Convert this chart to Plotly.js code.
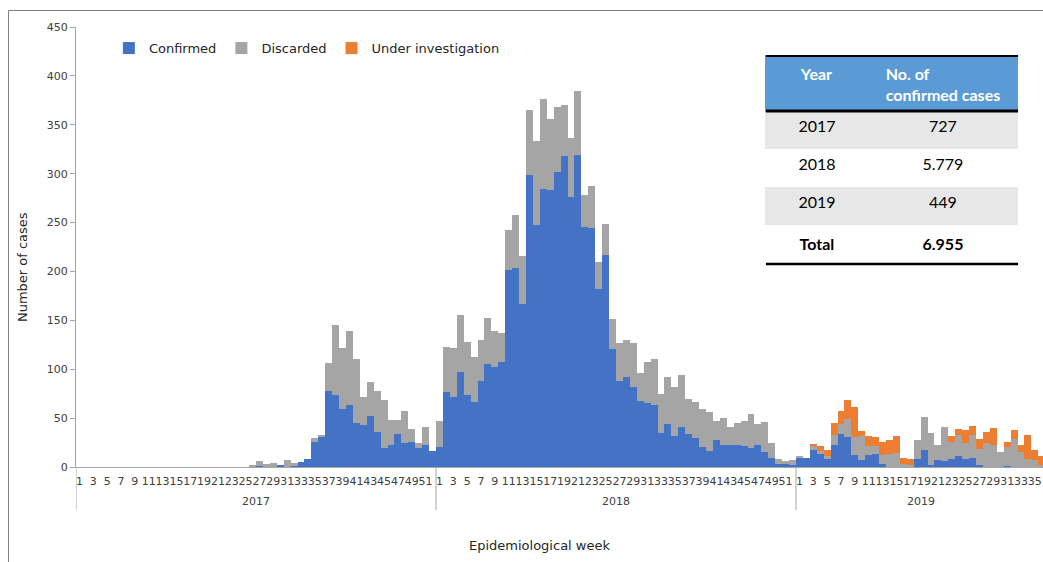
<!DOCTYPE html>
<html>
<head>
<meta charset="utf-8">
<script src="https://cdn.plot.ly/plotly-3.0.1.min.js"></script>
<style>
  html, body { margin: 0; padding: 0; background: #ffffff; }
  #chart { width: 1043px; height: 562px; }
</style>
</head>
<body>
<div id="chart"></div>
<script>
// ---------------- DATA ----------------
const years = ['2017', '2018', '2019'];

const confirmed2017 = [0,0,0,0,0,0,0,0,0,0, 0,0,0,0,0,0,0,0,0,0, 0,0,0,0,0,
  1,1,0,0,2,0,2,5,8,26,31,78,74,59,63,45,43,52,36,19,22,34,25,26,19,22,16];
const discarded2017 = [0,0,0,0,0,0,0,0,0,0, 0,0,0,0,0,0,0,0,0,0, 0,0,0,0,0,
  1,5,3,4,0,7,2,0,0,4,1,28,71,63,76,65,29,35,42,50,26,14,32,13,6,19,0];

const confirmed2018 = [20,77,72,97,74,66,88,105,102,107,
  201,204,167,299,248,284,283,302,318,276,
  319,245,244,182,217,121,88,92,82,68,
  65,63,35,44,32,41,34,30,20,16,
  28,22,22,23,21,19,22,15,9,3,3,2];
const discarded2018 = [27,46,50,58,54,46,42,47,37,30,
  41,54,49,66,85,92,73,66,52,60,
  66,33,43,28,32,30,39,38,45,28,
  42,47,40,48,50,53,36,36,39,40,
  19,28,19,22,26,35,22,31,16,5,3,5];

const confirmed2019 = [10,9,17,13,9,23,34,31,12,7,
  12,13,3,0,0,0,0,8,17,2,
  7,6,8,11,8,9,2,0,0,0,
  1,0,0,0,0,0];
const discarded2019 = [1,0,4,3,2,10,10,18,19,25,
  9,8,9,13,14,3,2,20,34,33,
  16,35,18,22,17,24,16,25,23,15,
  19,29,15,8,7,2];
const investigation2019 = [0,0,3,5,6,12,13,20,30,5,
  11,10,14,15,18,6,6,0,0,0,
  0,0,6,6,13,9,11,11,17,0,
  6,9,8,25,10,9];

// summary table
const tableYears = ['2017', '2018', '2019', '<b>Total</b>'];
const tableCases = ['727', '5.779', '449', '<b>6.955</b>'];

const seriesNames = ['Confirmed', 'Discarded', 'Under investigation'];
const seriesColors = ['#4472C4', '#A5A5A5', '#ED7D31'];

// ---------------- BUILD ----------------
const confirmedByYear = [confirmed2017, confirmed2018, confirmed2019];
const discardedByYear = [discarded2017, discarded2018, discarded2019];
const investigationByYear = [null, null, investigation2019];

const offsets = [];
let acc = 0;
confirmedByYear.forEach(arr => { offsets.push(acc); acc += arr.length; });

function buildSeries(byYear) {
  const x = [], y = [], cd = [];
  byYear.forEach((arr, yi) => {
    if (!arr) return;
    arr.forEach((v, wi) => { x.push(offsets[yi] + wi); y.push(v); cd.push([years[yi], wi + 1]); });
  });
  return { x, y, cd };
}

const tickvals = [], ticktext = [];
confirmedByYear.forEach((arr, yi) => {
  arr.forEach((v, wi) => {
    const wk = wi + 1;
    if (wk % 2 === 1) { tickvals.push(offsets[yi] + wi); ticktext.push(String(wk)); }
  });
});

const font = 'DejaVu Sans, Verdana, sans-serif';
const traces = [confirmedByYear, discardedByYear, investigationByYear].map((byYear, i) => {
  const s = buildSeries(byYear);
  return {
    type: 'bar', name: seriesNames[i], x: s.x, y: s.y, customdata: s.cd,
    marker: { color: seriesColors[i], line: { width: 0 } },
    hovertemplate: '%{customdata[0]} wk %{customdata[1]}: %{y}<extra>' + seriesNames[i] + '</extra>'
  };
});

const grayRow = '#E7E7E7';
const rowFills = [grayRow, '#FFFFFF', grayRow, '#FFFFFF'];
traces.push({
  type: 'table',
  domain: { x: [0.7135, 0.9742], y: [0.4614, 0.9341] },
  columnwidth: [102, 150],
  header: {
    values: ['<b>Year</b>', '<b>No. of<br>confirmed cases</b>'],
    align: 'center', height: 55,
    fill: { color: '#5B9BD5' },
    line: { color: '#5B9BD5', width: 1 },
    font: { family: 'Lato, Carlito, sans-serif', size: 16, color: '#FFFFFF' }
  },
  cells: {
    values: [tableYears, tableCases],
    align: 'center', height: 38,
    fill: { color: [rowFills, rowFills] },
    line: { color: [rowFills, rowFills], width: 1 },
    font: { family: 'Lato, Carlito, sans-serif', size: 16, color: '#000000' }
  }
});

const shapes = [];
// year dividers below the axis
offsets.forEach(o => {
  shapes.push({ type: 'line', xref: 'x', yref: 'paper', x0: o - 0.5, x1: o - 0.5, y0: 0, y1: -0.098,
    line: { color: '#A6A6A6', width: 1 } });
});
// table rules
[[0.9341, 2], [0.8091, 3], [0.4614, 2.5]].forEach(([yy, w]) => {
  shapes.push({ type: 'line', xref: 'paper', yref: 'paper', x0: 0.7135, x1: 0.9742, y0: yy, y1: yy,
    line: { color: '#000000', width: w } });
});
// outer chart border
shapes.push({ type: 'rect', xref: 'paper', yref: 'paper', x0: -0.0698, x1: 1.05, y0: -0.3, y1: 1.0375,
  line: { color: '#7F7F7F', width: 1 }, fillcolor: 'rgba(0,0,0,0)' });

const annotations = years.map((yr, yi) => ({
  xref: 'x', yref: 'paper', x: offsets[yi] + (confirmedByYear[yi].length - 1) / 2, y: -0.0795,
  text: yr, showarrow: false, yanchor: 'middle', xanchor: 'center',
  font: { family: font, size: 11, color: '#404040' }
}));
annotations.push({
  xref: 'paper', yref: 'paper', x: 0.4798, y: -0.1795, text: 'Epidemiological week', showarrow: false,
  xanchor: 'center', yanchor: 'middle', font: { family: font, size: 13, color: '#262626' }
});
annotations.push({
  xref: 'paper', yref: 'paper', x: -0.0558, y: 0.4545, text: 'Number of cases', showarrow: false,
  textangle: -90, xanchor: 'center', yanchor: 'middle', font: { family: font, size: 13, color: '#262626' }
});

const layout = {
  width: 1043, height: 562,
  margin: { l: 76, r: 0, t: 27, b: 95, pad: 0 },
  paper_bgcolor: '#FFFFFF', plot_bgcolor: '#FFFFFF',
  barmode: 'stack', bargap: 0,
  showlegend: true,
  legend: {
    orientation: 'h', x: 0.034, xanchor: 'left', y: 0.952, yanchor: 'middle',
    traceorder: 'normal', bgcolor: 'rgba(0,0,0,0)',
    font: { family: font, size: 13, color: '#262626' }
  },
  xaxis: {
    range: [-0.5, -0.5 + 967 / 6.923], tickvals: tickvals, ticktext: ticktext,
    ticks: '', showgrid: false, zeroline: false,
    showline: true, linecolor: '#A6A6A6', linewidth: 1, ticklabelstandoff: 4,
    tickfont: { family: font, size: 11, color: '#404040' }, tickangle: 0
  },
  yaxis: {
    range: [0, 450], dtick: 50, tick0: 0, ticks: 'outside', ticklen: 5, tickcolor: '#A6A6A6',
    showgrid: false, zeroline: false, showline: true, linecolor: '#A6A6A6', linewidth: 1,
    tickfont: { family: font, size: 11, color: '#404040' }
  },
  shapes: shapes,
  annotations: annotations
};

Plotly.newPlot('chart', traces, layout, { displayModeBar: false });
</script>
</body>
</html>
